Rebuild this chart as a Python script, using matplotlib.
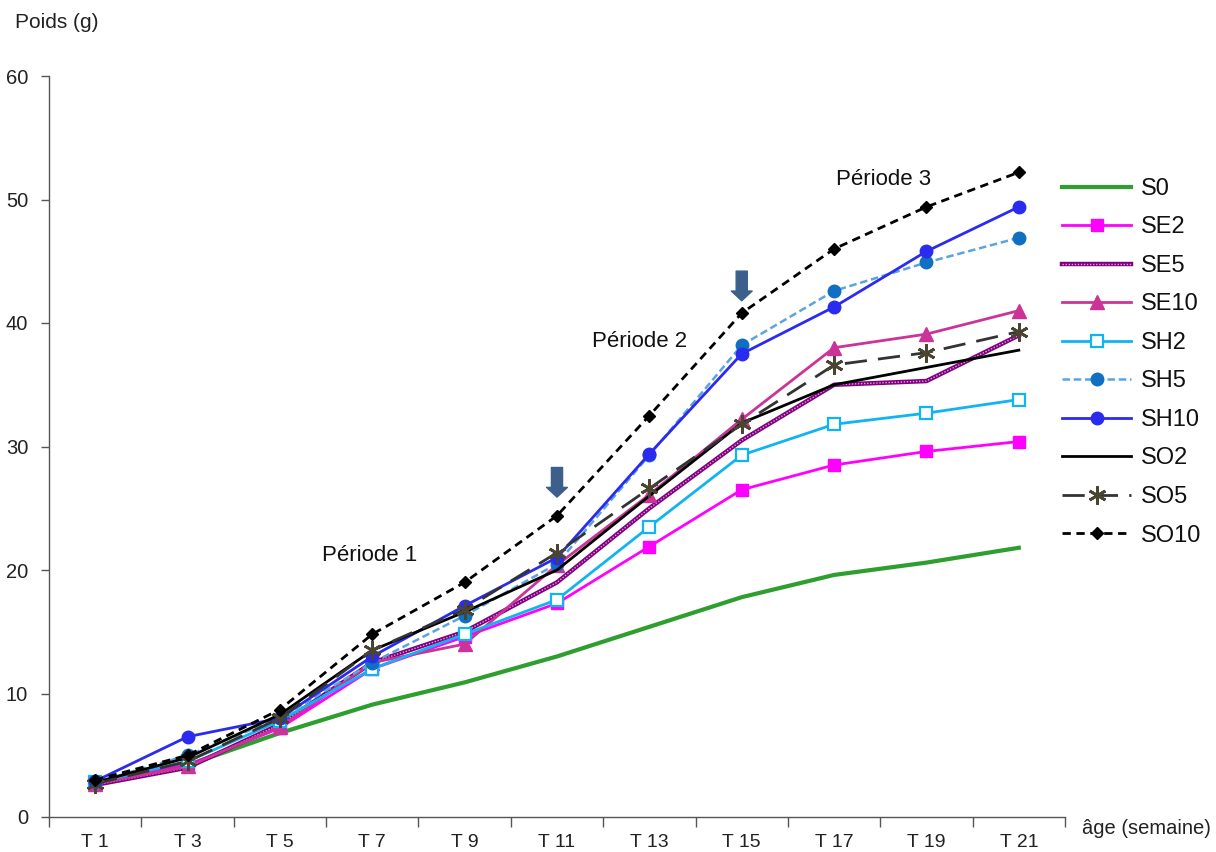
import matplotlib
matplotlib.use("Agg")
import matplotlib.pyplot as plt
from matplotlib.legend_handler import HandlerTuple
import numpy as np

plt.rcParams['font.family'] = ['Liberation Sans', 'DejaVu Sans']

categories = ["T 1", "T 3", "T 5", "T 7", "T 9", "T 11", "T 13", "T 15", "T 17", "T 19", "T 21"]

S0   = [2.8, 4.2, 6.8, 9.1, 10.9, 13.0, 15.4, 17.8, 19.6, 20.6, 21.8]
SE2  = [2.8, 4.2, 7.2, 12.0, 14.6, 17.3, 21.9, 26.5, 28.5, 29.6, 30.4]
SE5  = [2.6, 4.0, 7.5, 12.5, 15.0, 19.0, 25.0, 30.5, 35.0, 35.3, 39.0]
SE10 = [2.7, 4.1, 7.3, 12.5, 14.0, 20.4, 26.1, 32.2, 38.0, 39.1, 41.0]
SH2  = [2.8, 4.5, 7.8, 12.0, 14.8, 17.6, 23.5, 29.3, 31.8, 32.7, 33.8]
SH5  = [2.8, 5.0, 8.0, 12.5, 16.3, 20.5, 29.3, 38.2, 42.6, 44.9, 46.9]
SH10 = [2.9, 6.5, 8.0, 13.0, 17.1, 21.0, 29.4, 37.5, 41.3, 45.8, 49.4]
SO2  = [2.8, 4.8, 8.3, 13.5, 16.6, 20.0, 26.0, 31.9, 35.0, 36.4, 37.8]
SO5  = [2.7, 4.5, 8.0, 13.5, 16.8, 21.4, 26.6, 31.8, 36.6, 37.6, 39.3]
SO10 = [3.0, 5.0, 8.7, 14.8, 19.0, 24.4, 32.5, 40.8, 46.0, 49.4, 52.2]

periods = ["Période 1", "Période 2", "Période 3"]
period_x = [2.97, 5.89, 8.54]
period_y = [21.2, 38.5, 51.6]
arrow_x = [5.0, 7.0]
arrow_top = [28.3, 44.2]
arrow_tip = [25.9, 41.8]

fig = plt.figure(figsize=(12.16, 8.52), dpi=100)
ax = fig.add_axes([49/1216, 1-817/852, (1065-49)/1216, (817-76)/852])

x = np.arange(len(categories))

handles = []
h, = ax.plot(x, S0, color='#2E9E2E', lw=3)
handles.append(h)
h, = ax.plot(x, SE2, color='#FF00FF', lw=2, marker='s', ms=9)
handles.append(h)
h1, = ax.plot(x, SE5, color='#800080', lw=3.2)
h2, = ax.plot(x, SE5, color='#D9A0D9', lw=1, ls=(0, (1, 1.2)))
handles.append((h1, h2))
h, = ax.plot(x, SE10, color='#CC3399', lw=2, marker='^', ms=10)
handles.append(h)
h, = ax.plot(x, SH2, color='#10B4F0', lw=2, marker='s', ms=8, mfc='white', mec='#10B4F0', mew=1.6)
handles.append(h)
h, = ax.plot(x, SH5, color='#5AA4E0', lw=1.8, ls=(0, (3, 1.5)), marker='o', ms=9, mfc='#0F6FC0', mec='#0F6FC0')
handles.append(h)
h, = ax.plot(x, SH10, color='#2B2BF0', lw=2, marker='o', ms=9)
handles.append(h)
h, = ax.plot(x, SO2, color='black', lw=2)
handles.append(h)
h, = ax.plot(x, SO5, color='#333333', lw=2, ls=(0, (8, 4)), marker=(6, 2, 0), ms=13, mec='#4A4530', mew=2)
handles.append(h)
h, = ax.plot(x, SO10, color='black', lw=2, ls=(0, (3, 2)), marker='D', ms=6.5)
handles.append(h)

labels = ['S0', 'SE2', 'SE5', 'SE10', 'SH2', 'SH5', 'SH10', 'SO2', 'SO5', 'SO10']

for t, px, py in zip(periods, period_x, period_y):
    ax.text(px, py, t, ha='center', va='center', fontsize=16, color='#111111')

for ax_, top, tip in zip(arrow_x, arrow_top, arrow_tip):
    ax.annotate('', xy=(ax_, tip), xytext=(ax_, top),
                arrowprops=dict(arrowstyle='simple,head_width=0.75,head_length=0.35,tail_width=0.4',
                                mutation_scale=20, color='#3C5F8C', shrinkA=0, shrinkB=0))

ax.set_xlim(-0.5, len(categories) - 0.5)
ax.set_ylim(0, 60)
ax.set_yticks(np.arange(0, 61, 10))
ax.set_xticks(x)
ax.set_xticklabels(categories)
ax.set_xticks(np.arange(-0.5, len(categories), 1), minor=True)
ax.tick_params(axis='x', which='major', length=0, labelsize=14, pad=12, labelcolor='#222222')
ax.tick_params(axis='x', which='minor', length=7, width=1, color='#555555', direction='out')
ax.tick_params(axis='y', length=6, width=1, color='#555555', labelsize=14.5, pad=9, labelcolor='#222222')
for s in ['top', 'right']:
    ax.spines[s].set_visible(False)
for s in ['left', 'bottom']:
    ax.spines[s].set_color('#555555')
    ax.spines[s].set_linewidth(1)

fig.text(15/1216, 1-22/852, 'Poids (g)', fontsize=15, va='center', ha='left', color='#222222')
fig.text(1082/1216, 1-828/852, 'âge (semaine)', fontsize=14.5, va='center', ha='left', color='#222222')

leg = ax.legend(handles, labels, handler_map={tuple: HandlerTuple(ndivide=1)},
                loc='upper left', bbox_to_anchor=(1050/1216, 1-166/852),
                bbox_transform=fig.transFigure, frameon=False, fontsize=17,
                handlelength=2.95, handletextpad=0.38, labelspacing=0.70, borderpad=0)
for t in leg.get_texts():
    t.set_color('#111111')

fig.savefig('out.png', dpi=100)
